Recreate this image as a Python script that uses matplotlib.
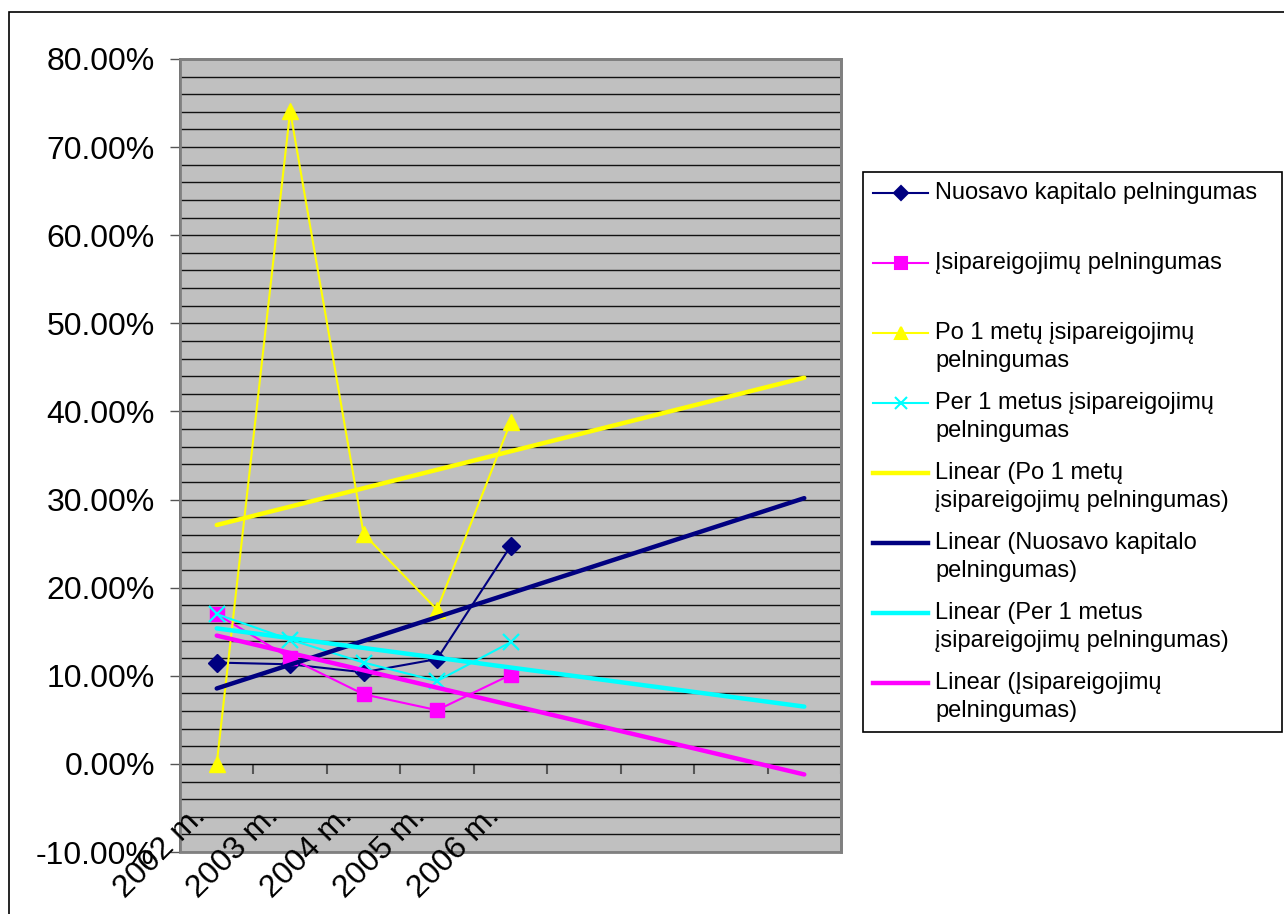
import numpy as np
import matplotlib.pyplot as plt
import matplotlib.transforms as mtransforms
from matplotlib.patches import Rectangle
from matplotlib.ticker import MultipleLocator, FuncFormatter

plt.rcParams['font.family'] = ['Liberation Sans', 'DejaVu Sans']

# Duomenys (procentais)
metai = ['2002 m.', '2003 m.', '2004 m.', '2005 m.', '2006 m.']
nuosavo = [11.5, 11.3, 10.4, 11.9, 24.7]
isipareig = [17.0, 12.0, 7.9, 6.1, 10.1]
po_1_metu = [0.0, 74.1, 26.1, 17.5, 38.75]
per_1_metus = [17.0, 14.1, 11.5, 9.4, 13.8]

# Excel trendline: tiesine, prognoze 4 periodai i prieki
prognoze = 4

W, H = 1284, 914
fig = plt.figure(figsize=(W / 100, H / 100), dpi=100)
fig.patch.set_facecolor('white')

# remelis aplink visa diagrama
fig.patches.append(Rectangle((8.5 / W, -0.5), 2, 1.5 - 12 / H, transform=fig.transFigure,
                             fill=False, edgecolor='black', linewidth=1.2))

ax = fig.add_axes([180 / W, 1 - 852 / H, (841 - 180) / W, (852 - 59) / H])
ax.set_facecolor('#C0C0C0')

x = np.arange(len(metai))
n_kat = len(metai) + prognoze
ax.set_xlim(-0.5, n_kat - 0.5)
ax.set_ylim(-10, 80)

# Tinklelis kas 2 %
ax.yaxis.set_major_locator(MultipleLocator(10))
ax.yaxis.set_minor_locator(MultipleLocator(2))
ax.grid(True, which='both', axis='y', color='#111111', linewidth=1.0, zorder=0)
ax.set_axisbelow(True)
ax.yaxis.set_major_formatter(FuncFormatter(lambda v, p: f'{v:.2f}%'))
ax.tick_params(axis='y', which='major', labelsize=23, length=7, width=1, color='#555555', pad=11)
ax.tick_params(axis='y', which='minor', length=0)

# X asis ties 0 %
ax.spines['bottom'].set_position(('data', 0))
ax.spines['bottom'].set_color('black')
ax.spines['left'].set_color('black')
ax.spines['left'].set_linewidth(1.2)
for s in ['top', 'right']:
    ax.spines[s].set_color('#808080')
    ax.spines[s].set_linewidth(2)
ax.add_patch(Rectangle((0, 0), 1, 1, transform=ax.transAxes, fill=False,
                       edgecolor='#808080', linewidth=2, zorder=5, clip_on=False))

ax.set_xticks(np.arange(n_kat))
ax.set_xticklabels([])
ax.set_xticks(np.arange(0.5, n_kat, 1), minor=True)
ax.tick_params(axis='x', which='major', length=0)
ax.tick_params(axis='x', which='minor', direction='out', length=7, width=1.5, color='#555555')

lbl_trans = mtransforms.offset_copy(ax.transData, fig=fig, x=-10, y=-53, units='dots')
for i, m in enumerate(metai):
    ax.text(i, 0, m, transform=lbl_trans, rotation=45, rotation_mode='anchor',
            ha='right', va='baseline', fontsize=23, clip_on=False, zorder=6)

# Serijos
serijos = [
    (nuosavo, '#000080', 'D', 9),
    (isipareig, '#FF00FF', 's', 10),
    (po_1_metu, '#FFFF00', '^', 11),
    (per_1_metus, '#00FFFF', 'x', 11),
]
for y, c, mk, ms in serijos:
    ax.plot(x, y, color=c, linewidth=1.5, marker=mk, markersize=ms,
            markeredgewidth=1.6 if mk == 'x' else 1, zorder=3)

# Tiesines tendencijos
xt = np.array([0, n_kat - 1])
for y, c in [(nuosavo, '#000080'), (isipareig, '#FF00FF'), (po_1_metu, '#FFFF00'), (per_1_metus, '#00FFFF')]:
    k, b = np.polyfit(x, y, 1)
    ax.plot(xt, k * xt + b, color=c, linewidth=3.2, solid_capstyle='round', zorder=4)

# Legenda
lx0, lx1, ly0, ly1 = 863, 1282, 172, 732
lax = fig.add_axes([lx0 / W, 1 - ly1 / H, (lx1 - lx0) / W, (ly1 - ly0) / H])
lax.set_xlim(0, lx1 - lx0)
lax.set_ylim(ly1 - ly0, 0)
lax.axis('off')
lax.add_patch(Rectangle((0, 0), 1, 1, transform=lax.transAxes, fill=False,
                        edgecolor='black', linewidth=1.2, clip_on=False))

legenda = [
    ('#000080', 'D', 7, 1.5, ['Nuosavo kapitalo pelningumas']),
    ('#FF00FF', 's', 8, 1.5, ['Įsipareigojimų pelningumas']),
    ('#FFFF00', '^', 9, 1.5, ['Po 1 metų įsipareigojimų', 'pelningumas']),
    ('#00FFFF', 'x', 9, 1.5, ['Per 1 metus įsipareigojimų', 'pelningumas']),
    ('#FFFF00', None, 0, 3.2, ['Linear (Po 1 metų', 'įsipareigojimų pelningumas)']),
    ('#000080', None, 0, 3.2, ['Linear (Nuosavo kapitalo', 'pelningumas)']),
    ('#00FFFF', None, 0, 3.2, ['Linear (Per 1 metus', 'įsipareigojimų pelningumas)']),
    ('#FF00FF', None, 0, 3.2, ['Linear (Įsipareigojimų', 'pelningumas)']),
]
for i, (c, mk, ms, lw, eil) in enumerate(legenda):
    yc = 21 + 70 * i
    lax.plot([10, 65], [yc, yc], color=c, linewidth=lw)
    if mk:
        lax.plot([37.5], [yc], color=c, marker=mk, markersize=ms, markeredgewidth=1.5)
    for j, t in enumerate(eil):
        lax.text(72, yc + 28 * j, t, fontsize=17, va='center', ha='left')

fig.savefig('out.png', dpi=100)
